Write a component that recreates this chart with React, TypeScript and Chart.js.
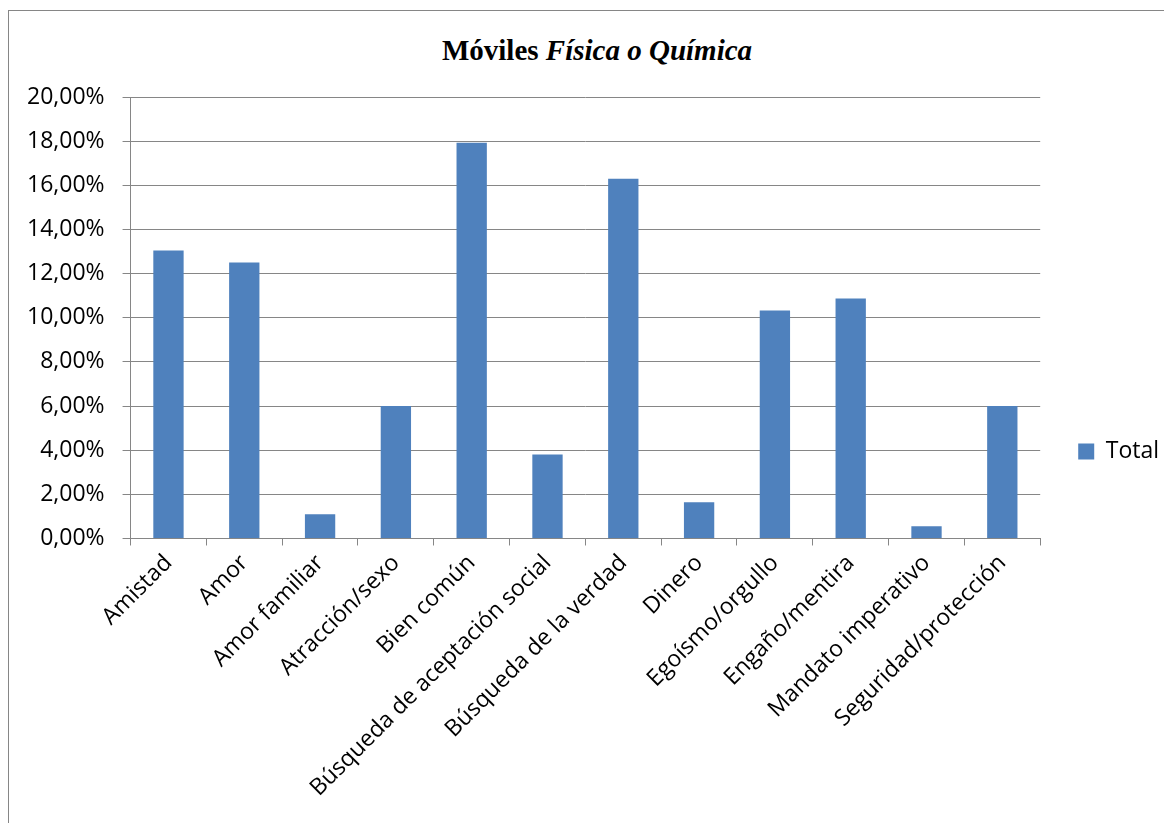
import React, { useEffect, useRef } from "react";
import { Chart, registerables } from "chart.js";

Chart.register(...registerables);

const categories = [
  "Amistad",
  "Amor",
  "Amor familiar",
  "Atracción/sexo",
  "Bien común",
  "Búsqueda de aceptación social",
  "Búsqueda de la verdad",
  "Dinero",
  "Egoísmo/orgullo",
  "Engaño/mentira",
  "Mandato imperativo",
  "Seguridad/protección",
];

const totalValues = [13.05, 12.5, 1.1, 6.0, 17.93, 3.8, 16.3, 1.64, 10.33, 10.87, 0.55, 6.0];

const seriesName = "Total";
const yMin = 0;
const yMax = 20;
const yStep = 2;

const AXIS_FONT = "'Open Sans', 'DejaVu Sans', sans-serif";
const GRID = "#868686";

export default function App() {
  const ref = useRef<HTMLCanvasElement | null>(null);

  useEffect(() => {
    if (!ref.current) return;
    const chart = new Chart(ref.current, {
      type: "bar",
      data: {
        labels: categories,
        datasets: [
          {
            label: seriesName,
            data: totalValues,
            backgroundColor: "#4F81BD",
            borderWidth: 0,
            barPercentage: 0.4,
            categoryPercentage: 1,
          },
        ],
      },
      options: {
        animation: false,
        responsive: false,
        maintainAspectRatio: false,
        layout: { padding: { top: 36, bottom: 18, left: 0, right: 0 } },
        plugins: {
          title: { display: false },
          tooltip: { enabled: false },
          legend: {
            position: "right",
            align: "center",
            labels: {
              boxWidth: 16,
              boxHeight: 16,
              padding: 38,
              color: "#000",
              font: { family: AXIS_FONT, size: 23 },
            },
          },
        },
        scales: {
          x: {
            offset: true,
            grid: {
              offset: true,
              drawOnChartArea: false,
              drawTicks: true,
              tickLength: 7,
              color: GRID,
              lineWidth: 1,
            },
            border: { display: true, color: GRID, width: 1 },
            ticks: {
              minRotation: 45,
              maxRotation: 45,
              autoSkip: false,
              padding: 4,
              color: "#000",
              font: { family: AXIS_FONT, size: 23 },
            },
          },
          y: {
            min: yMin,
            max: yMax,
            grid: {
              drawOnChartArea: true,
              drawTicks: true,
              tickLength: 8,
              color: GRID,
              lineWidth: 1,
            },
            border: { display: true, color: GRID, width: 1 },
            ticks: {
              stepSize: yStep,
              padding: 18,
              color: "#000",
              font: { family: AXIS_FONT, size: 23 },
              callback: (v: any) => Number(v).toFixed(2).replace(".", ",") + "%",
            },
          },
        },
      },
    });
    return () => chart.destroy();
  }, []);

  return (
    <div
      style={{
        position: "relative",
        marginTop: 2,
        width: 1160,
        height: 830,
        border: "1px solid #868686",
        background: "#fff",
        overflow: "hidden",
      }}
    >
      <div
        style={{
          position: "absolute",
          top: 23,
          left: 0,
          width: 1176,
          textAlign: "center",
          fontFamily: "'Liberation Serif', 'Times New Roman', serif",
          fontWeight: "bold",
          fontSize: 29,
          color: "#000",
        }}
      >
        Móviles <i>Física o Química</i>
      </div>
      <canvas
        ref={ref}
        width={1160}
        height={763}
        style={{ position: "absolute", left: 0, top: 50, width: 1160, height: 763 }}
      />
    </div>
  );
}
